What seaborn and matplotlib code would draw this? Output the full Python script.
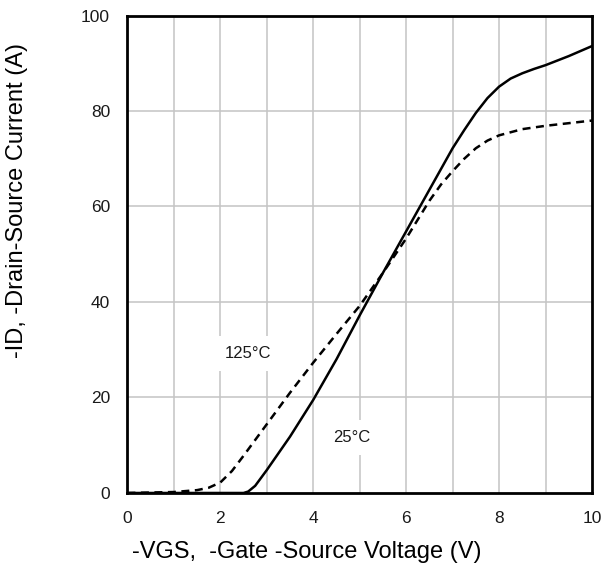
import pandas as pd
import matplotlib
matplotlib.use("Agg")
import matplotlib.pyplot as plt
import seaborn as sns

# transfer characteristics
vgs_25 = [0, 2.5, 2.6, 2.75, 3.0, 3.5, 4.0, 4.5, 5.0, 5.5, 6.0, 6.5, 7.0, 7.25, 7.5, 7.75, 8.0,
          8.25, 8.5, 8.75, 9.0, 9.5, 10.0]
id_25 = [0, 0, 0.3, 1.5, 4.8, 11.8, 19.5, 28.0, 37.2, 46.1, 54.8, 63.5, 72.2, 76.0, 79.6, 82.7, 85.1,
         86.8, 87.9, 88.8, 89.6, 91.5, 93.6]

vgs_125 = [0, 1.0, 1.5, 1.75, 2.0, 2.25, 2.5, 3.0, 3.5, 4.0, 4.5, 5.0, 5.5, 6.0, 6.5, 6.75, 7.0,
           7.25, 7.5, 7.75, 8.0, 8.5, 9.0, 10.0]
id_125 = [0, 0.2, 0.6, 1.1, 2.2, 4.6, 7.8, 14.4, 21.0, 27.3, 33.3, 39.2, 46.1, 53.3, 61.2, 64.6, 67.4,
          70.0, 72.2, 73.8, 74.9, 76.2, 76.9, 78.0]

x_ticks = [0, 2, 4, 6, 8, 10]
y_ticks = [0, 20, 40, 60, 80, 100]

df25 = pd.DataFrame({"vgs": vgs_25, "id": id_25})
df125 = pd.DataFrame({"vgs": vgs_125, "id": id_125})

sns.set_style("white")
plt.rcParams['font.family'] = ['Liberation Sans', 'DejaVu Sans']

fig = plt.figure(figsize=(6.01, 5.66), dpi=100)
ax = fig.add_axes([0.212, 0.129, 0.773, 0.8436])

# grid every 1 V / 20 A
for v in range(1, 10):
    ax.axvline(v, color='#c4c4c4', lw=1.1, zorder=0)
for a in y_ticks[1:-1]:
    ax.axhline(a, color='#c4c4c4', lw=1.1, zorder=0)

sns.lineplot(data=df25, x="vgs", y="id", ax=ax, color="black", lw=1.8, zorder=3)
sns.lineplot(data=df125, x="vgs", y="id", ax=ax, color="black", lw=1.8,
             linestyle=(0, (3.2, 2.2)), zorder=3)

ax.set_xlim(0, 10)
ax.set_ylim(0, 100)
ax.set_xticks(x_ticks)
ax.set_yticks(y_ticks)
ax.set_xlabel("")
ax.set_ylabel("")
ax.tick_params(axis="both", length=0, labelsize=12.5, labelcolor="#1a1a1a")
ax.tick_params(axis="y", pad=12.5)
ax.tick_params(axis="x", pad=13)

for s in ax.spines.values():
    s.set_visible(True)
    s.set_color("black")
    s.set_linewidth(2)
    s.set_zorder(5)

box = dict(boxstyle="square,pad=0.6", fc="white", ec="none")
ax.text(2.6, 29.3, "125°C", fontsize=12, color="#1a1a1a", ha="center", va="center", bbox=box, zorder=4)
ax.text(4.83, 11.7, "25°C", fontsize=12, color="#1a1a1a", ha="center", va="center", bbox=box, zorder=4)

fig.text(17 / 601, 1 - 200 / 566, "-ID, -Drain-Source Current (A)", rotation=90,
         fontsize=17, color="black", ha="center", va="center")
fig.text(307 / 601, 1 - 552 / 566, "-VGS,  -Gate -Source Voltage (V)",
         fontsize=17, color="black", ha="center", va="center")

fig.savefig("out.png", dpi=100)
